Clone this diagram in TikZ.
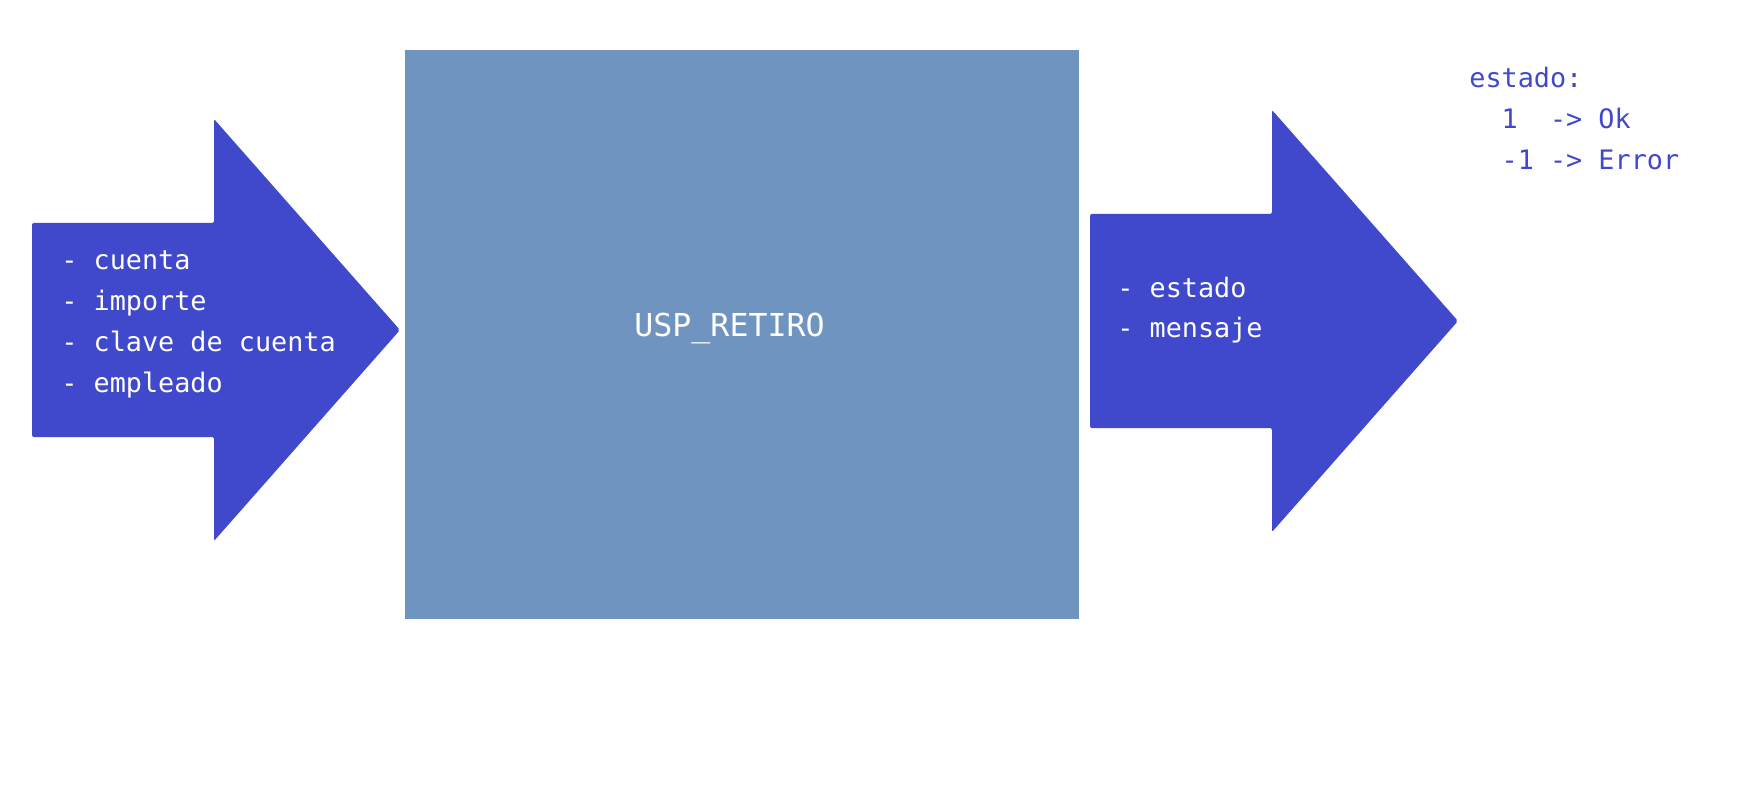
\documentclass[tikz,border=0pt]{standalone}
\usepackage{fontspec}
\setmonofont{DejaVu Sans Mono}
\definecolor{flecha}{RGB}{64,72,204}
\definecolor{bloque}{RGB}{112,148,192}

\begin{document}
\begin{tikzpicture}[x=0.5pt, y=-0.5pt,
    every node/.style={font=\ttfamily\fontsize{13.4}{20.5}\selectfont, inner sep=0pt, align=left, anchor=base west},
    campo/.style={text=white},
    nota/.style={text=flecha}]
    \useasboundingbox (0,0) rectangle (1752,802);

    % procedimiento
    \fill[bloque] (405,50) rectangle (1079,619);
    \node[campo, font=\ttfamily\fontsize{15.8}{20}\selectfont] (usp) at (634,337) {USP\_RETIRO};

    % entrada (base = ultima linea)
    \fill[flecha, rounded corners=1pt] (32,223) -- (214,223) -- (214,119) -- (400,330) -- (214,541) -- (214,437) -- (32,437) -- cycle;
    \node[campo] (entrada) at (61,393) {- cuenta\\- importe\\- clave de cuenta\\- empleado};

    % salida
    \fill[flecha, rounded corners=1pt] (1090,214) -- (1272,214) -- (1272,110) -- (1458,321) -- (1272,532) -- (1272,428) -- (1090,428) -- cycle;
    \node[campo] (salida) at (1117,338) {- estado\\- mensaje};

    % valores de estado
    \node[nota] (estado) at (1469,170) {estado:\\\ \ 1\ \ -> Ok\\\ \ -1 -> Error};
\end{tikzpicture}
\end{document}
